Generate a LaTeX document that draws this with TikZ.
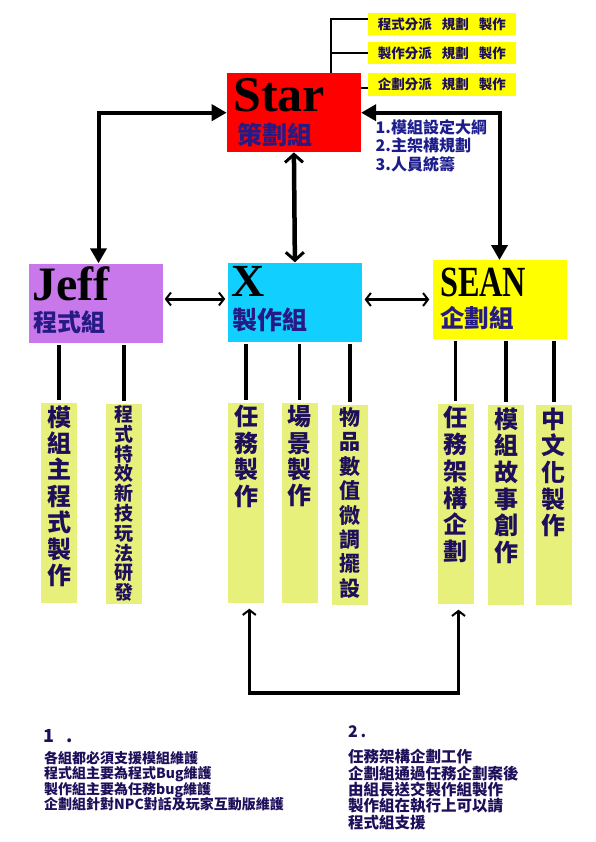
\documentclass[tikz,border=0pt]{standalone}
\usepackage{fontspec}
\usetikzlibrary{arrows.meta,calc}
\newfontfamily\cjk{Noto Sans CJK TC}
\newfontfamily\deco{Liberation Serif}
\definecolor{starRed}{HTML}{FF0000}
\definecolor{jeffPurple}{HTML}{C878EB}
\definecolor{xCyan}{HTML}{11CFFF}
\definecolor{seanYellow}{HTML}{FFFF00}
\definecolor{colGreen}{HTML}{E8F07C}
\definecolor{inkNavy}{HTML}{1E0F5A}
\definecolor{groupNavy}{HTML}{261A84}
\definecolor{planBlue}{HTML}{1C1C8C}

\begin{document}
\begin{tikzpicture}[
  x=1pt, y=-1pt,
  every node/.style={inner sep=0pt},
  groupbox/.style={minimum width=134, minimum height=79, anchor=north west},
  taskbox/.style={fill=seanYellow, minimum width=148, minimum height=22, anchor=north west,
    text=inkNavy, font=\cjk\bfseries\fontsize{13.5}{14}\selectfont},
  colbox/.style={fill=colGreen, minimum width=36, minimum height=200, anchor=north},
  vtext/.style={anchor=north, align=center, text=inkNavy},
  title/.style={anchor=base west, font=\deco\bfseries\fontsize{50}{50}\selectfont},
  group/.style={anchor=west, text=groupNavy, font=\cjk\bfseries\fontsize{25}{25}\selectfont},
  bigarrow/.style={line width=4pt,
    {Triangle[length=15pt,width=16pt]}-{Triangle[length=15pt,width=16pt]}},
  thickbarb/.style={line width=4.5pt,
    {Straight Barb[length=8pt,width=18pt,line width=3pt]}-{Straight Barb[length=8pt,width=18pt,line width=3pt]}},
  sidebarb/.style={line width=3pt,
    {Straight Barb[length=5pt,width=13pt,line width=2pt]}-{Straight Barb[length=5pt,width=13pt,line width=2pt]}},
  stem/.style={line width=3.8pt, shorten <=2pt, shorten >=2pt},
  bracket/.style={line width=2pt},
  note/.style={anchor=north west, align=left, text=inkNavy}
]
  \useasboundingbox (0,0) rectangle (595,842);

  % Star box and its tasks
  \node[groupbox, fill=starRed] (star) at (226.7,73) {};
  \node[title] (starname) at (233,111.7) {Star};
  \node[group] (stargroup) at (237,135) {策劃組};

  \node[taskbox] (task1) at (367.7,13.3) {程式分派\hspace{10pt}規劃\hspace{10pt}製作};
  \node[taskbox] (task2) at (367.7,42.3) {製作分派\hspace{10pt}規劃\hspace{10pt}製作};
  \node[taskbox, minimum height=23] (task3) at (367.7,72.7) {企劃分派\hspace{10pt}規劃\hspace{10pt}製作};

  \draw[bracket] ([yshift=5pt]task1.west) -| ([xshift=-30pt]star.north east);
  \draw[bracket] (task2.west) -| ([xshift=-30pt]star.north east);
  \draw[bracket] ([yshift=-4pt]task3.west) -- ([yshift=-4pt]task3.west -| star.east);

  \node[anchor=north west, align=left, text=planBlue,
    font=\cjk\bfseries\fontsize{16}{18.3}\selectfont] (plan) at (375.5,119.5)
    {1.模組設定大綱\\2.主架構規劃\\3.人員統籌};

  % Group boxes
  \node[groupbox, fill=jeffPurple] (jeff) at (28.3,263.3) {};
  \node[title, font=\deco\bfseries\fontsize{48}{48}\selectfont] (jeffname) at (32,300.5) {Jeff};
  \node[group, font=\cjk\bfseries\fontsize{24}{24}\selectfont] (jeffgroup) at (33.5,322) {程式組};

  \node[groupbox, fill=xCyan] (xgrp) at (227.7,262.3) {};
  \node[title, font=\deco\bfseries\fontsize{46}{46}\selectfont] (xname) at (231,296.7) {X};
  \node[group] (xgroup) at (232,320) {製作組};

  \node[groupbox, fill=seanYellow] (sean) at (432.3,260) {};
  \node[title, font=\deco\bfseries\fontsize{43}{43}\selectfont] (seanname) at (440,296.7)
    {\scalebox{0.75}[1]{SEAN}};
  \node[group, font=\cjk\bfseries\fontsize{24.5}{24.5}\selectfont] (seangroup) at (440,318.5) {企劃組};

  % Links between the groups
  \draw[bigarrow] (star.west) -| ([xshift=3pt]jeff.north);
  \draw[bigarrow] (star.east) -| (sean.north);
  \draw[thickbarb] (star.south) -- (xgrp.north);
  \draw[sidebarb, shorten <=2pt, shorten >=2.5pt]
    ([yshift=4pt]jeff.east) -- ([yshift=4pt]jeff.east -| xgrp.west);
  \draw[sidebarb, shorten <=2.5pt, shorten >=3pt]
    ([yshift=2.5pt]xgrp.east) -- ([yshift=2.5pt]xgrp.east -| sean.west);

  % Work columns
  \node[colbox] (c1) at (59.3,402.3) {};
  \node[vtext, font=\cjk\bfseries\fontsize{24}{26.4}\selectfont] (t1) at ([yshift=-3pt]c1.north)
    {模\\組\\主\\程\\式\\製\\作};
  \node[colbox] (c2) at (123.7,403.3) {};
  \node[vtext, font=\cjk\bfseries\fontsize{19}{19.8}\selectfont] (t2) at ([yshift=-2pt]c2.north)
    {程\\式\\特\\效\\新\\技\\玩\\法\\研\\發};
  \node[colbox] (c3) at (246.3,402.3) {};
  \node[vtext, font=\cjk\bfseries\fontsize{24}{26.4}\selectfont] (t3) at ([yshift=-3pt]c3.north)
    {任\\務\\製\\作};
  \node[colbox] (c4) at (299.5,402.3) {};
  \node[vtext, font=\cjk\bfseries\fontsize{24}{26.4}\selectfont] (t4) at ([yshift=-3pt]c4.north)
    {場\\景\\製\\作};
  \node[colbox] (c5) at (350.3,404.3) {};
  \node[vtext, font=\cjk\bfseries\fontsize{21}{24.4}\selectfont] (t5) at ([yshift=-3pt]c5.north)
    {物\\品\\數\\值\\微\\調\\擺\\設};
  \node[colbox] (c6) at (455.5,403.3) {};
  \node[vtext, font=\cjk\bfseries\fontsize{24}{26.7}\selectfont] (t6) at ([yshift=-3pt]c6.north)
    {任\\務\\架\\構\\企\\劃};
  \node[colbox] (c7) at (506.3,404.3) {};
  \node[vtext, font=\cjk\bfseries\fontsize{24}{26.7}\selectfont] (t7) at ([yshift=-3pt]c7.north)
    {模\\組\\故\\事\\創\\作};
  \node[colbox] (c8) at (553.7,404.3) {};
  \node[vtext, font=\cjk\bfseries\fontsize{24}{26.7}\selectfont] (t8) at ([yshift=-3pt]c8.north)
    {中\\文\\化\\製\\作};

  % Stems from the groups down to the columns
  \draw[stem] (jeff.south -| c1.north) -- (c1.north);
  \draw[stem] (jeff.south -| c2.north) -- (c2.north);
  \draw[stem] (xgrp.south -| c3.north) -- (c3.north);
  \draw[stem] (xgrp.south -| c4.north) -- (c4.north);
  \draw[stem] (xgrp.south -| c5.north) -- (c5.north);
  \draw[stem] (sean.south -| c6.north) -- (c6.north);
  \draw[stem] (sean.south -| c7.north) -- (c7.north);
  \draw[stem] (sean.south -| c8.north) -- (c8.north);

  % Loop between the two task columns
  \coordinate (loopbase) at (0,693);
  \draw[sidebarb, line width=3.5pt, shorten <=6pt, shorten >=6pt]
    ([xshift=3pt]c3.south) -- ([xshift=3pt]c3.south |- loopbase) -| ([xshift=3pt]c6.south);

  % Notes
  \node[anchor=base west, text=inkNavy, font=\cjk\bfseries\fontsize{18}{18}\selectfont]
    (note1head) at (43,742) {1\hspace{12pt}.};
  \node[note, font=\cjk\bfseries\fontsize{14}{15.5}\selectfont] (note1) at (44,751)
    {各組都必須支援模組維護\\程式組主要為程式Bug維護\\製作組主要為任務bug維護\\企劃組針對NPC對話及玩家互動版維護};
  \node[anchor=base west, text=inkNavy, font=\cjk\bfseries\fontsize{16}{16}\selectfont]
    (note2head) at (348,737) {2\,.};
  \node[note, font=\cjk\bfseries\fontsize{15.5}{16.4}\selectfont] (note2) at (348,749)
    {任務架構企劃工作\\企劃組通過任務企劃案後\\由組長送交製作組製作\\製作組在執行上可以請\\程式組支援};
\end{tikzpicture}
\end{document}
